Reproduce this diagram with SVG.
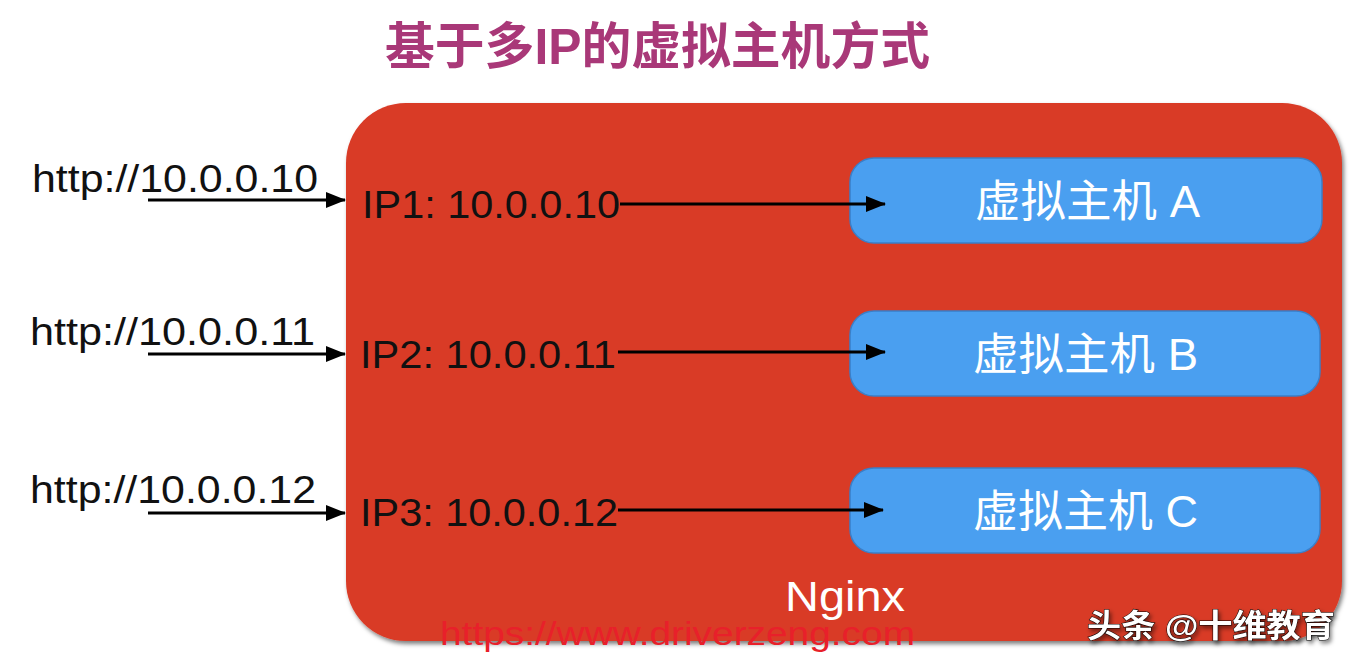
<svg xmlns="http://www.w3.org/2000/svg" width="1356" height="662" viewBox="0 0 1356 662">
<defs>
<marker id="ah" markerWidth="20" markerHeight="16" refX="19" refY="8" orient="auto" markerUnits="userSpaceOnUse" viewBox="0 0 20 16">
<path d="M0,0 L20,8 L0,16 z" fill="#000"/>
</marker>
<filter id="sh" x="-5%" y="-5%" width="115%" height="120%"><feDropShadow dx="2" dy="3" stdDeviation="2" flood-color="#000" flood-opacity="0.5"/></filter>
</defs>
<style>
.t{font-family:"Liberation Sans","Noto Sans CJK SC",sans-serif}
.lbl{font-size:38px;fill:#111}
.vh{font-size:44px;fill:#fff}
.blue{fill:#4a9ff0;stroke:#3a7fc8;stroke-width:1.5}
.conn{stroke:#000;stroke-width:3;fill:none;marker-end:url(#ah)}
</style>
<rect width="1356" height="662" fill="#fff"/>
<text class="t" x="385" y="64" font-size="50" font-weight="bold" fill="#a93878" textLength="545" lengthAdjust="spacingAndGlyphs">基于多IP的虚拟主机方式</text>
<g id="nginx">
<rect x="346" y="103" width="996" height="538" rx="60" fill="#d93a26" filter="url(#sh)"/>
<text class="t" x="785" y="611" font-size="42" fill="#fff" textLength="120" lengthAdjust="spacingAndGlyphs">Nginx</text>
</g>
<g id="vhA"><rect class="blue" x="850" y="158" width="472" height="85" rx="24"/><text class="t vh" x="975" y="217" textLength="225" lengthAdjust="spacingAndGlyphs">虚拟主机 A</text></g>
<g id="vhB"><rect class="blue" x="850" y="311" width="470" height="85" rx="24"/><text class="t vh" x="973" y="370" textLength="225" lengthAdjust="spacingAndGlyphs">虚拟主机 B</text></g>
<g id="vhC"><rect class="blue" x="850" y="468" width="470" height="85" rx="24"/><text class="t vh" x="973" y="527" textLength="225" lengthAdjust="spacingAndGlyphs">虚拟主机 C</text></g>
<g id="urls">
<text class="t lbl" x="32" y="192" textLength="286" lengthAdjust="spacingAndGlyphs">http://10.0.0.10</text>
<text class="t lbl" x="30" y="345" textLength="285" lengthAdjust="spacingAndGlyphs">http://10.0.0.11</text>
<text class="t lbl" x="30" y="503" textLength="286" lengthAdjust="spacingAndGlyphs">http://10.0.0.12</text>
</g>
<g id="ips">
<text class="t lbl" x="362" y="218" textLength="258" lengthAdjust="spacingAndGlyphs">IP1: 10.0.0.10</text>
<text class="t lbl" x="360" y="368" textLength="256" lengthAdjust="spacingAndGlyphs">IP2: 10.0.0.11</text>
<text class="t lbl" x="360" y="526" textLength="258" lengthAdjust="spacingAndGlyphs">IP3: 10.0.0.12</text>
</g>
<g id="connectors">
<line class="conn" x1="148" y1="200" x2="345" y2="200"/>
<line class="conn" x1="148" y1="354" x2="345" y2="354"/>
<line class="conn" x1="148" y1="513" x2="345" y2="513"/>
<line class="conn" x1="620" y1="204" x2="885" y2="204"/>
<line class="conn" x1="618" y1="352" x2="885" y2="352"/>
<line class="conn" x1="618" y1="510" x2="883" y2="510"/>
</g>
<text class="t" x="440" y="645" font-size="34" fill="#e8202a" textLength="475" lengthAdjust="spacingAndGlyphs">https://www.driverzeng.com</text>
<text class="t" x="1087" y="637" font-size="32" font-weight="bold" fill="#fff" stroke="#000" stroke-width="1" paint-order="stroke" filter="url(#sh)" textLength="248" lengthAdjust="spacingAndGlyphs">头条 @十维教育</text>
</svg>
